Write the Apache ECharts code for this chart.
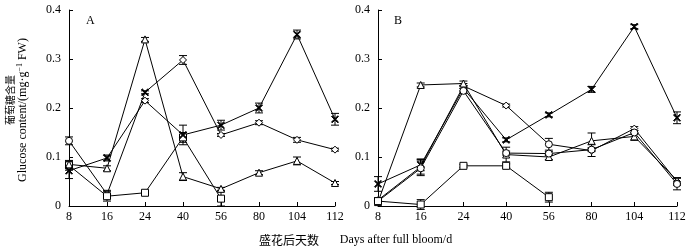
<!DOCTYPE html>
<html>
<head>
<meta charset="utf-8">
<script src="https://cdn.jsdelivr.net/npm/echarts@6/dist/echarts.min.js"></script>
<style>
  html, body { margin: 0; padding: 0; background: #fff; }
  #chart { width: 692px; height: 248px; }
</style>
</head>
<body>
<div id="chart"></div>
<script>
// days after full bloom
const days = ['8', '16', '24', '40', '56', '80', '104', '112'];

// panel A
const diaA = [0.133, 0.024, 0.232, 0.298, 0.145, 0.170, 0.135, 0.115];
const sqA = [0.083, 0.020, 0.027, 0.140, 0.015, null, null, null];
const triA = [0.085, 0.077, 0.340, 0.060, 0.035, 0.068, 0.092, 0.047];
const crossA = [0.072, 0.098, 0.215, 0.145, 0.165, 0.200, 0.350, 0.177];
const diaAErr = [0.008, 0.008, 0.003, 0.009, 0.003, 0.004, 0.005, 0.003];
const sqAErr = [0.010, 0.010, 0.004, 0.010, 0.015];
const triAErr = [0.006, 0.005, 0.004, 0.008, 0.003, 0.004, 0.008, 0.003];
const crossAErr = [0.016, 0.006, 0.004, 0.020, 0.010, 0.010, 0.009, 0.012];

// panel B
const crossB = [0.045, 0.084, 0.240, 0.135, 0.186, 0.238, 0.366, 0.180];
const diaB = [0.012, 0.080, 0.245, 0.205, 0.126, 0.113, 0.158, 0.050];
const triB = [0.008, 0.247, 0.250, 0.105, 0.100, 0.133, 0.142, 0.052];
const cirB = [0.010, 0.077, 0.235, 0.108, 0.107, 0.115, 0.150, 0.045];
const sqB = [0.010, 0.003, 0.082, 0.082, 0.018, null, null, null];
const crossBErr = [0.015, 0.012, 0.005, 0.004, 0.004, 0.006, 0.004, 0.012];
const diaBErr = [0.005, 0.015, 0.005, 0.003, 0.012, 0.012, 0.004, 0.008];
const triBErr = [0.004, 0.004, 0.005, 0.015, 0.005, 0.016, 0.008, 0.005];
const cirBErr = [0.004, 0.015, 0.005, 0.004, 0.004, 0.004, 0.004, 0.012];
const sqBErr = [0.004, 0.010, 0.003, 0.004, 0.010];

const yTicks = [0, 0.1, 0.2, 0.3, 0.4];

const SERIF = '"Liberation Serif", "DejaVu Serif", serif';
const CJK = '"Noto Sans CJK SC", sans-serif';
const CROSS = 'path://M0,1L1,0L5,4L9,0L10,1L6,5L10,9L9,10L5,6L1,10L0,9L4,5Z';

function fillFor(symbol) {
  return symbol === CROSS ? '#000' : '#fff';
}

// some points carry a different marker than the rest of their line
function withSymbols(data, overrides) {
  return data.map((v, i) => {
    if (v == null) return null;
    if (overrides && overrides[i]) {
      return { value: v, symbol: overrides[i], itemStyle: { color: fillFor(overrides[i]) } };
    }
    return v;
  });
}

function lineSeries(data, symbol, idx, overrides) {
  return {
    type: 'line',
    data: withSymbols(data, overrides),
    xAxisIndex: idx,
    yAxisIndex: idx,
    symbol: symbol,
    symbolSize: 7,
    showAllSymbol: true,
    connectNulls: false,
    z: 3,
    lineStyle: { color: '#000', width: 1 },
    itemStyle: { color: fillFor(symbol), borderColor: '#000', borderWidth: 1 },
    emphasis: { disabled: true },
    animation: false
  };
}

function renderErr(params, api) {
  const x = api.value(0);
  const lo = api.coord([x, api.value(1)]);
  const hi = api.coord([x, api.value(2)]);
  const w = 4;
  const st = { stroke: '#000', lineWidth: 1 };
  return {
    type: 'group',
    children: [
      { type: 'line', shape: { x1: lo[0], y1: lo[1], x2: hi[0], y2: hi[1] }, style: st },
      { type: 'line', shape: { x1: lo[0] - w, y1: lo[1], x2: lo[0] + w, y2: lo[1] }, style: st },
      { type: 'line', shape: { x1: hi[0] - w, y1: hi[1], x2: hi[0] + w, y2: hi[1] }, style: st }
    ]
  };
}

function errSeries(vals, errs, idx) {
  const data = [];
  vals.forEach((v, i) => {
    if (v != null && errs[i] != null) data.push([i, v - errs[i], v + errs[i]]);
  });
  return {
    type: 'custom',
    xAxisIndex: idx,
    yAxisIndex: idx,
    renderItem: renderErr,
    encode: { x: 0, y: [1, 2] },
    data: data,
    z: 2,
    silent: true,
    animation: false
  };
}

function xAxis(idx) {
  return {
    type: 'category',
    gridIndex: idx,
    data: days,
    boundaryGap: false,
    axisLine: { lineStyle: { color: '#000', width: 1 } },
    axisTick: { inside: true, length: 4, lineStyle: { color: '#000' } },
    axisLabel: { color: '#000', fontFamily: SERIF, fontSize: 12, margin: 5 },
    splitLine: { show: false }
  };
}

function yAxis(idx) {
  return {
    type: 'value',
    gridIndex: idx,
    min: yTicks[0],
    max: yTicks[yTicks.length - 1],
    interval: 0.1,
    axisLine: { show: true, lineStyle: { color: '#000', width: 1 } },
    axisTick: { show: true, inside: true, length: 4, lineStyle: { color: '#000' } },
    axisLabel: {
      color: '#000', fontFamily: SERIF, fontSize: 12, margin: 8,
      formatter: v => (v === 0 ? '0' : v.toFixed(1))
    },
    splitLine: { show: false }
  };
}

const chart = echarts.init(document.getElementById('chart'), null, { renderer: 'canvas' });

const option = {
  backgroundColor: '#fff',
  animation: false,
  grid: [
    { left: 69, top: 10, width: 266, height: 196 },
    { left: 378, top: 10, width: 299, height: 196 }
  ],
  xAxis: [xAxis(0), xAxis(1)],
  yAxis: [yAxis(0), yAxis(1)],
  graphic: [
    { type: 'text', left: 86, top: 15, style: { text: 'A', font: '12px ' + SERIF, fill: '#000' } },
    { type: 'text', left: 394, top: 15, style: { text: 'B', font: '12px ' + SERIF, fill: '#000' } },
    {
      type: 'text', x: 10, y: 100, rotation: Math.PI / 2,
      style: { text: '葡萄糖含量', font: '10px ' + CJK, fill: '#000', align: 'center', verticalAlign: 'middle' }
    },
    {
      type: 'text', x: 23, y: 110, rotation: Math.PI / 2,
      style: {
        text: 'Glucose content/(mg·g{sup|−1} FW)',
        font: '12px ' + SERIF, fill: '#000', align: 'center', verticalAlign: 'middle',
        rich: { sup: { fontSize: 8, fontFamily: SERIF, padding: [0, 0, 6, 0], fill: '#000' } }
      }
    },
    {
      type: 'text', x: 289, y: 240,
      style: { text: '盛花后天数', font: '12px ' + CJK, fill: '#000', align: 'center', verticalAlign: 'middle' }
    },
    {
      type: 'text', x: 396, y: 240,
      style: { text: 'Days after full bloom/d', font: '12px ' + SERIF, fill: '#000', align: 'center', verticalAlign: 'middle' }
    }
  ],
  series: [
    errSeries(diaA, diaAErr, 0),
    errSeries(sqA, sqAErr, 0),
    errSeries(triA, triAErr, 0),
    errSeries(crossA, crossAErr, 0),
    lineSeries(diaA, 'diamond', 0, { 0: 'circle', 2: CROSS }),
    lineSeries(sqA, 'rect', 0),
    lineSeries(triA, 'triangle', 0),
    lineSeries(crossA, CROSS, 0, { 2: 'diamond' }),

    errSeries(crossB, crossBErr, 1),
    errSeries(diaB, diaBErr, 1),
    errSeries(triB, triBErr, 1),
    errSeries(cirB, cirBErr, 1),
    errSeries(sqB, sqBErr, 1),
    lineSeries(crossB, CROSS, 1),
    lineSeries(diaB, 'diamond', 1, { 4: 'circle' }),
    lineSeries(triB, 'triangle', 1),
    lineSeries(cirB, 'circle', 1),
    lineSeries(sqB, 'rect', 1)
  ]
};

chart.setOption(option);
</script>
</body>
</html>
